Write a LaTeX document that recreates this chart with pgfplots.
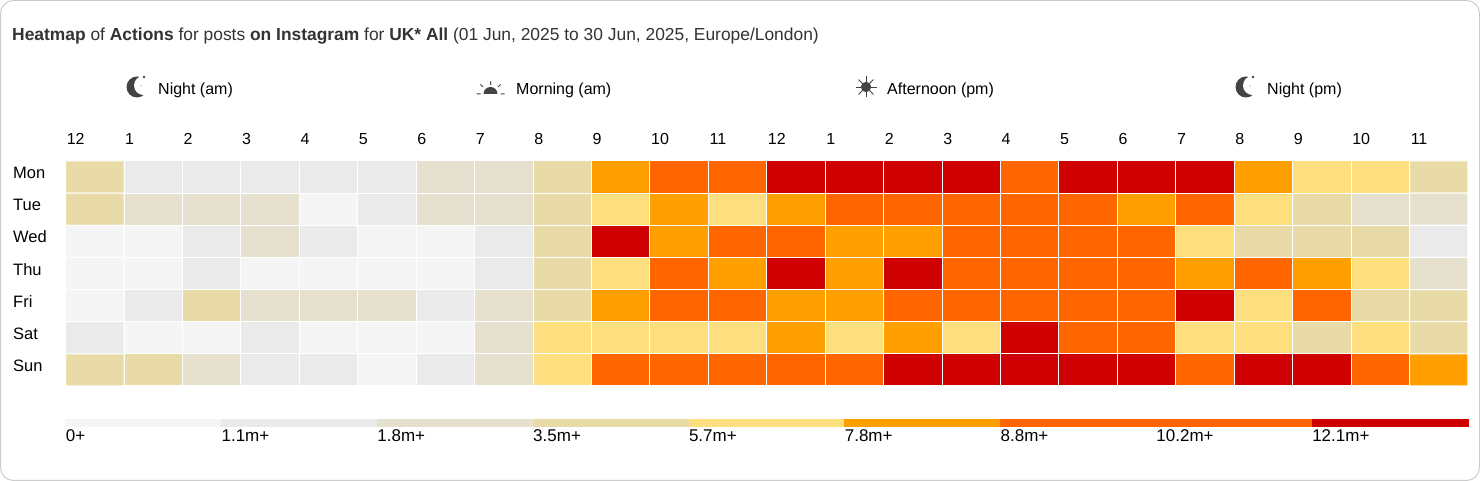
\documentclass[border=0pt]{standalone}
\usepackage{pgfplots}
\pgfplotsset{compat=1.18}
\usepackage{fontspec}
\setmainfont{Liberation Sans}
\definecolor{ttl}{HTML}{333333}
\definecolor{ic}{HTML}{444444}
\definecolor{hmA}{HTML}{F5F5F5}
\definecolor{hmB}{HTML}{EAEAEA}
\definecolor{hmC}{HTML}{E6E1CF}
\definecolor{hmD}{HTML}{E9DBA8}
\definecolor{hmE}{HTML}{FEDF80}
\definecolor{hmF}{HTML}{FF9F00}
\definecolor{hmG}{HTML}{FF6600}
\definecolor{hmH}{HTML}{CF0000}
\pgfplotsset{
  colormap={hm}{
    color(0)=(hmA) color(1)=(hmB) color(2)=(hmC) color(3)=(hmD)
    color(4)=(hmE) color(5)=(hmF) color(6)=(hmG) color(7)=(hmH)
  }
}
\begin{document}
\begin{tikzpicture}[x=1pt,y=1pt]
\fontsize{16}{18}\selectfont
\path[use as bounding box] (0,0) rectangle (1480,481);
\draw[draw=black!20,line width=1pt,rounded corners=13pt,fill=white] (0.5,0.5) rectangle (1479.5,480.5);
\node[anchor=base west,inner sep=0pt,text=ttl,font=\fontsize{17.4}{19}\selectfont] at (12,440) {\textbf{Heatmap} of \textbf{Actions} for posts \textbf{on Instagram} for \textbf{UK* All} (01 Jun, 2025 to 30 Jun, 2025, Europe/London)};
\foreach \x/\t in {158/Night (am),516/Morning (am),887/Afternoon (pm),1267/Night (pm)}
  \node[anchor=base west,inner sep=0pt] at (\x,386.5) {\t};
% moons
\foreach \x in {137,1246}{
  \fill[ic] (\x,394) circle (10.5);
  \fill[white] (\x+6.5,395.5) circle (9.5);
  \fill[ic] (\x+7,404) circle (1.3);
  \fill[ic] (\x+4,395) circle (0.5);
}
% sunrise
\begin{scope}[shift={(490.5,387)}]
  \fill[ic] (-7,0) arc (180:0:7) -- cycle;
  \draw[ic,line width=1pt] (-14,0)--(-10,0) (10,0)--(14,0) (0,9)--(0,12.5)
     (-7.5,7)--(-10,9.5) (7.5,7)--(10,9.5);
\end{scope}
% sun
\begin{scope}[shift={(866,394)}]
  \fill[ic] (0,0) circle (5.2);
  \foreach \a in {0,45,...,315} \draw[ic,line width=0.9pt] (\a:5)--(\a:10.5);
\end{scope}
\begin{axis}[
  at={(65.6pt,95pt)},anchor=south west,scale only axis,
  width=1402.4pt,height=225pt,
  xmin=0,xmax=24,ymin=0,ymax=7,y dir=reverse,
  axis line style={draw=none},tick style={draw=none},
  colormap name=hm,colormap access=piecewise constant,
  point meta min=-0.2,point meta max=7,
  xtick={0,...,23},
  xticklabels={12,1,2,3,4,5,6,7,8,9,10,11,12,1,2,3,4,5,6,7,8,9,10,11},
  xticklabel pos=top,
  xticklabel style={anchor=base west,inner sep=0pt,xshift=1pt,yshift=16pt,font=\fontsize{16}{18}\selectfont},
  ytick={0.5,1.5,2.5,3.5,4.5,5.5,6.5},
  yticklabels={Mon,Tue,Wed,Thu,Fri,Sat,Sun},
  yticklabel style={anchor=base west,inner sep=0pt,xshift=-52.6pt,yshift=-1.6pt,font=\fontsize{16.5}{18}\selectfont},
  clip=false,
]
\addplot[matrix plot*,mesh/cols=24,point meta=explicit,draw=white,line width=1pt] coordinates {
(0.5,0.5)[3] (1.5,0.5)[1] (2.5,0.5)[1] (3.5,0.5)[1] (4.5,0.5)[1] (5.5,0.5)[1] (6.5,0.5)[2] (7.5,0.5)[2] (8.5,0.5)[3] (9.5,0.5)[5] (10.5,0.5)[6] (11.5,0.5)[6] (12.5,0.5)[7] (13.5,0.5)[7] (14.5,0.5)[7] (15.5,0.5)[7] (16.5,0.5)[6] (17.5,0.5)[7] (18.5,0.5)[7] (19.5,0.5)[7] (20.5,0.5)[5] (21.5,0.5)[4] (22.5,0.5)[4] (23.5,0.5)[3]
(0.5,1.5)[3] (1.5,1.5)[2] (2.5,1.5)[2] (3.5,1.5)[2] (4.5,1.5)[0] (5.5,1.5)[1] (6.5,1.5)[2] (7.5,1.5)[2] (8.5,1.5)[3] (9.5,1.5)[4] (10.5,1.5)[5] (11.5,1.5)[4] (12.5,1.5)[5] (13.5,1.5)[6] (14.5,1.5)[6] (15.5,1.5)[6] (16.5,1.5)[6] (17.5,1.5)[6] (18.5,1.5)[5] (19.5,1.5)[6] (20.5,1.5)[4] (21.5,1.5)[3] (22.5,1.5)[2] (23.5,1.5)[2]
(0.5,2.5)[0] (1.5,2.5)[0] (2.5,2.5)[1] (3.5,2.5)[2] (4.5,2.5)[1] (5.5,2.5)[0] (6.5,2.5)[0] (7.5,2.5)[1] (8.5,2.5)[3] (9.5,2.5)[7] (10.5,2.5)[5] (11.5,2.5)[6] (12.5,2.5)[6] (13.5,2.5)[5] (14.5,2.5)[5] (15.5,2.5)[6] (16.5,2.5)[6] (17.5,2.5)[6] (18.5,2.5)[6] (19.5,2.5)[4] (20.5,2.5)[3] (21.5,2.5)[3] (22.5,2.5)[3] (23.5,2.5)[1]
(0.5,3.5)[0] (1.5,3.5)[0] (2.5,3.5)[1] (3.5,3.5)[0] (4.5,3.5)[0] (5.5,3.5)[0] (6.5,3.5)[0] (7.5,3.5)[1] (8.5,3.5)[3] (9.5,3.5)[4] (10.5,3.5)[6] (11.5,3.5)[5] (12.5,3.5)[7] (13.5,3.5)[5] (14.5,3.5)[7] (15.5,3.5)[6] (16.5,3.5)[6] (17.5,3.5)[6] (18.5,3.5)[6] (19.5,3.5)[5] (20.5,3.5)[6] (21.5,3.5)[5] (22.5,3.5)[4] (23.5,3.5)[2]
(0.5,4.5)[0] (1.5,4.5)[1] (2.5,4.5)[3] (3.5,4.5)[2] (4.5,4.5)[2] (5.5,4.5)[2] (6.5,4.5)[1] (7.5,4.5)[2] (8.5,4.5)[3] (9.5,4.5)[5] (10.5,4.5)[6] (11.5,4.5)[6] (12.5,4.5)[5] (13.5,4.5)[5] (14.5,4.5)[6] (15.5,4.5)[6] (16.5,4.5)[6] (17.5,4.5)[6] (18.5,4.5)[6] (19.5,4.5)[7] (20.5,4.5)[4] (21.5,4.5)[6] (22.5,4.5)[3] (23.5,4.5)[3]
(0.5,5.5)[1] (1.5,5.5)[0] (2.5,5.5)[0] (3.5,5.5)[1] (4.5,5.5)[0] (5.5,5.5)[0] (6.5,5.5)[0] (7.5,5.5)[2] (8.5,5.5)[4] (9.5,5.5)[4] (10.5,5.5)[4] (11.5,5.5)[4] (12.5,5.5)[5] (13.5,5.5)[4] (14.5,5.5)[5] (15.5,5.5)[4] (16.5,5.5)[7] (17.5,5.5)[6] (18.5,5.5)[6] (19.5,5.5)[4] (20.5,5.5)[4] (21.5,5.5)[3] (22.5,5.5)[4] (23.5,5.5)[3]
(0.5,6.5)[3] (1.5,6.5)[3] (2.5,6.5)[2] (3.5,6.5)[1] (4.5,6.5)[1] (5.5,6.5)[0] (6.5,6.5)[1] (7.5,6.5)[2] (8.5,6.5)[4] (9.5,6.5)[6] (10.5,6.5)[6] (11.5,6.5)[6] (12.5,6.5)[6] (13.5,6.5)[6] (14.5,6.5)[7] (15.5,6.5)[7] (16.5,6.5)[7] (17.5,6.5)[7] (18.5,6.5)[7] (19.5,6.5)[6] (20.5,6.5)[7] (21.5,6.5)[7] (22.5,6.5)[6] (23.5,6.5)[5]
};
\end{axis}
\begin{axis}[
  at={(65.6pt,54.5pt)},anchor=south west,scale only axis,
  width=1402.4pt,height=7pt,
  xmin=0,xmax=9,ymin=0,ymax=1,
  axis line style={draw=none},tick style={draw=none},
  colormap name=hm,colormap access=piecewise constant,
  point meta min=-0.2,point meta max=7,
  ytick=\empty,
  xtick={0,...,8},
  xticklabels={0+,1.1m+,1.8m+,3.5m+,5.7m+,7.8m+,8.8m+,10.2m+,12.1m+},
  xticklabel style={anchor=base west,inner sep=0pt,yshift=-15pt,font=\fontsize{17}{19}\selectfont},
  clip=false,
]
\addplot[matrix plot*,mesh/cols=9,point meta=explicit,draw=none] coordinates {
(0.5,0.25)[0] (1.5,0.25)[1] (2.5,0.25)[2] (3.5,0.25)[3] (4.5,0.25)[4] (5.5,0.25)[5] (6.5,0.25)[6] (7.5,0.25)[6] (8.5,0.25)[7]
(0.5,0.75)[0] (1.5,0.75)[1] (2.5,0.75)[2] (3.5,0.75)[3] (4.5,0.75)[4] (5.5,0.75)[5] (6.5,0.75)[6] (7.5,0.75)[6] (8.5,0.75)[7]
};
\end{axis}
\end{tikzpicture}
\end{document}
